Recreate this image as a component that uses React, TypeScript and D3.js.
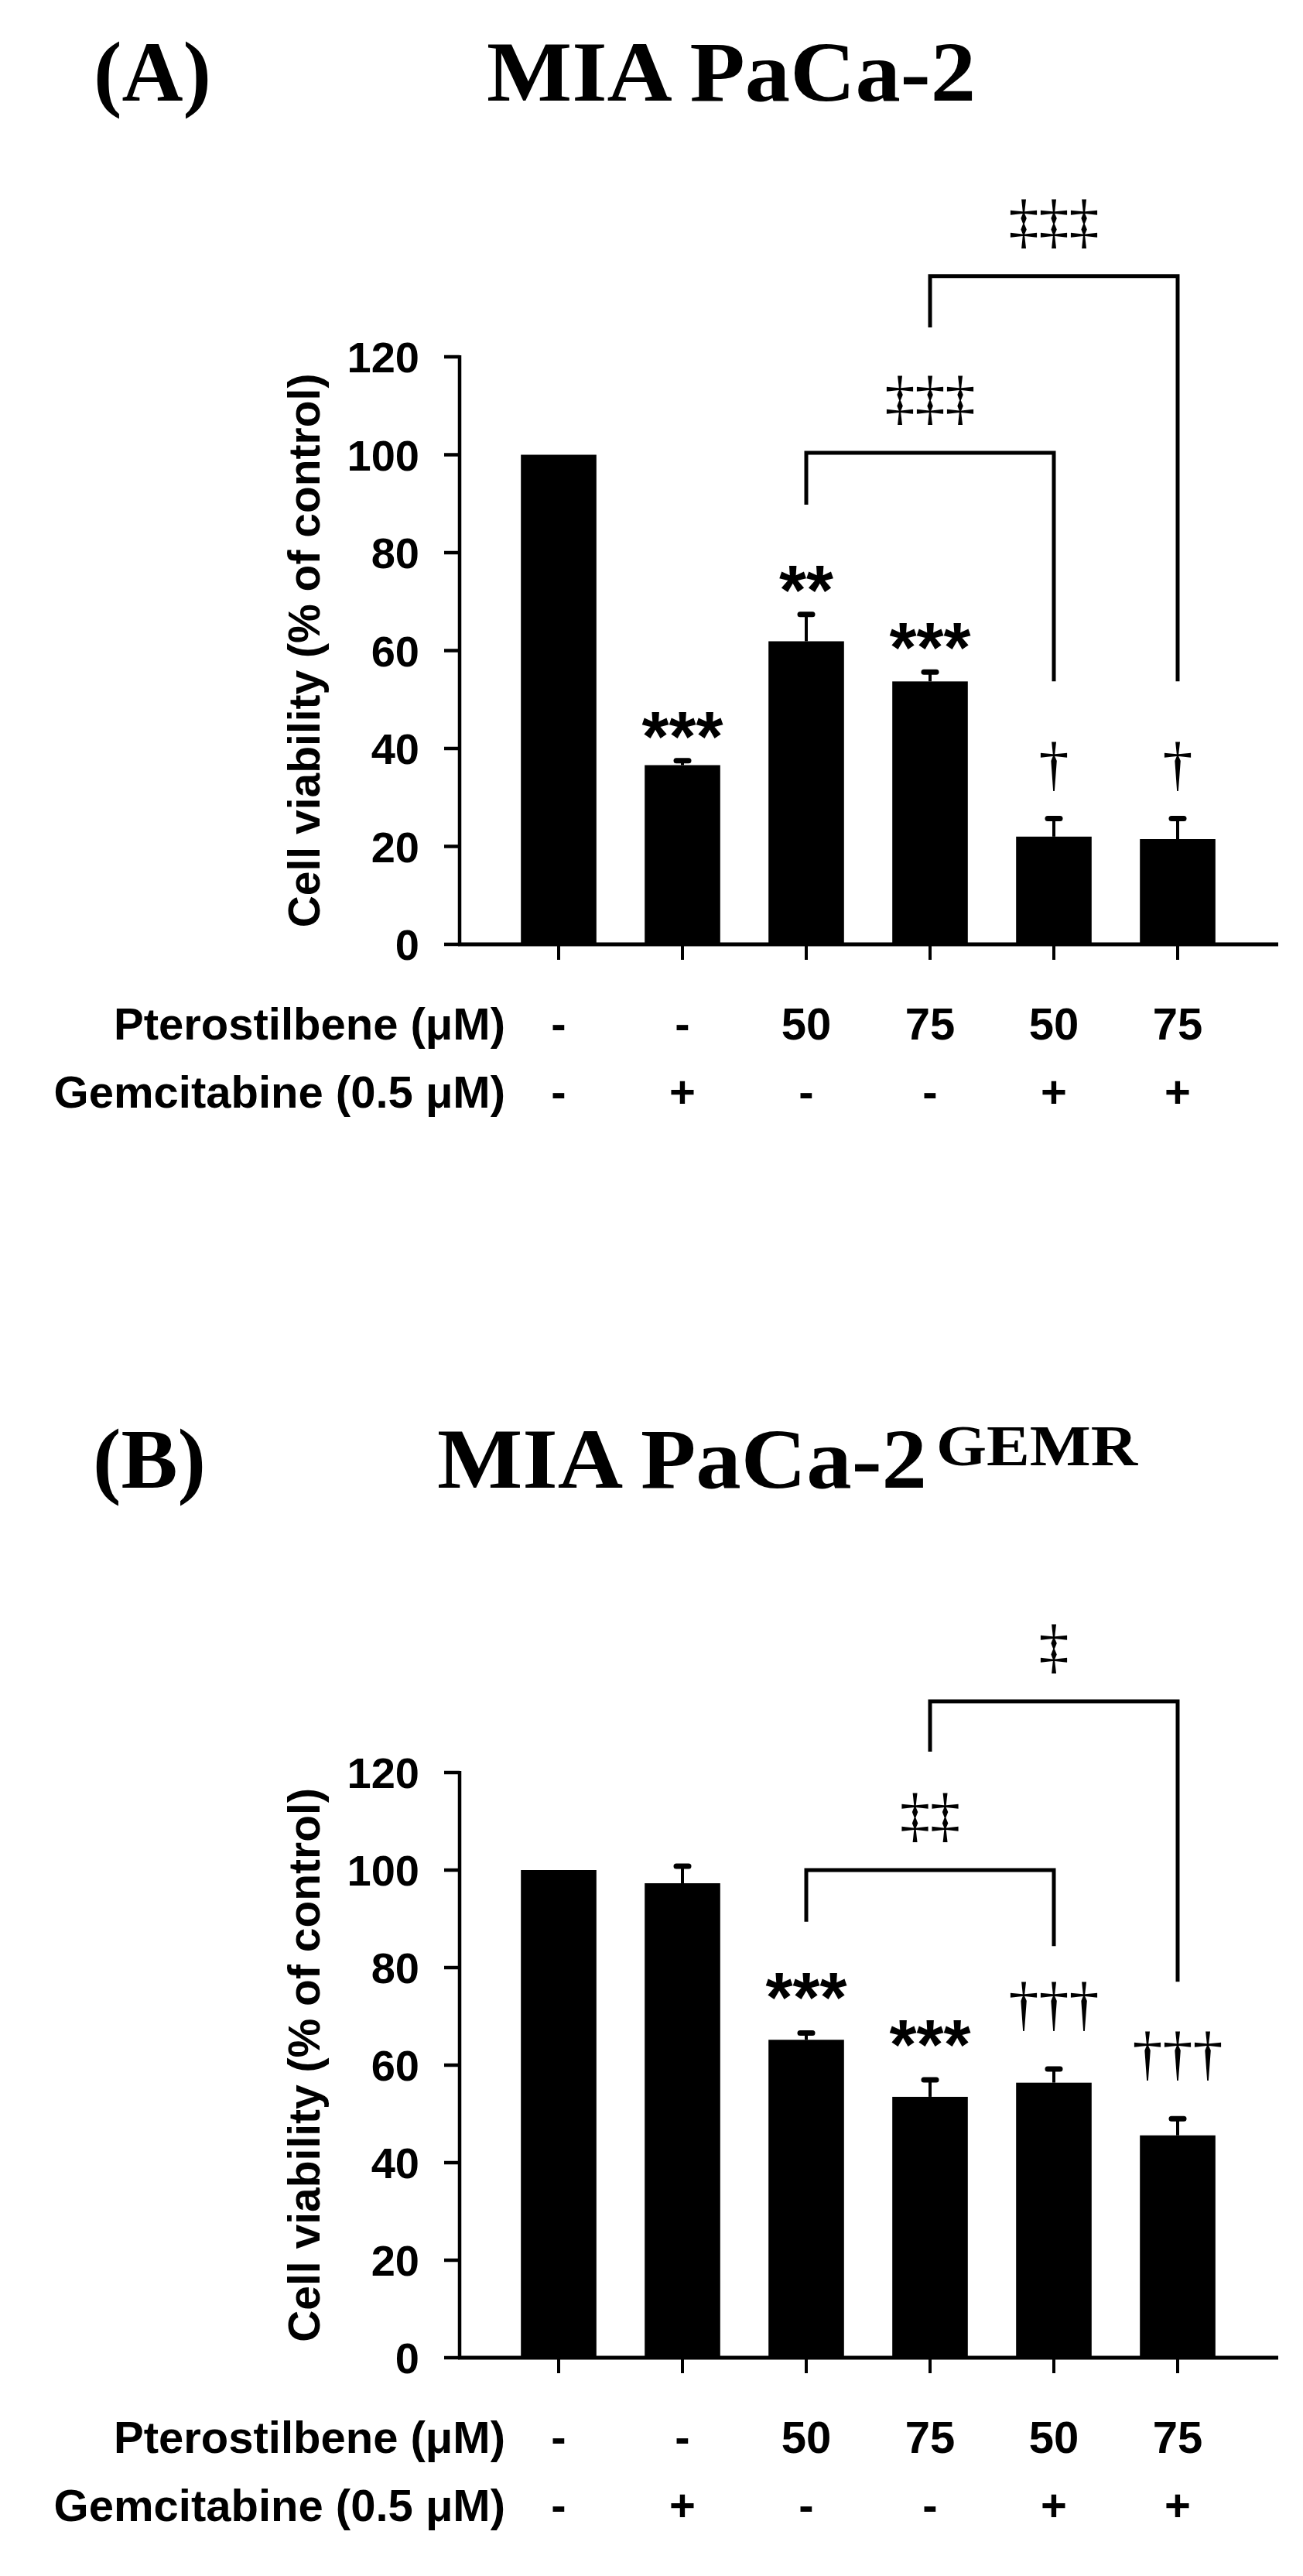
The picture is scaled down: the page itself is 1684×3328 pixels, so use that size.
import React from 'react';
import * as d3 from 'd3';

// groups (Pterostilbene / Gemcitabine combinations)
const groups = ['ctrl', 'gem', 'pt50', 'pt75', 'pt50gem', 'pt75gem'];
const pteroLabels = ['-', '-', '50', '75', '50', '75'];
const gemLabels = ['-', '+', '-', '-', '+', '+'];
const yTicks = [0, 20, 40, 60, 80, 100, 120];

// Panel A: MIA PaCa-2
const meansA = [100, 36.6, 61.9, 53.7, 22.0, 21.5];
const errA = [0, 0.9, 5.5, 1.9, 3.7, 4.2];
const marksA = ['', '***', '**', '***', '\u2020', '\u2020'];

// Panel B: MIA PaCa-2 GEMR
const meansB = [100, 97.3, 65.2, 53.5, 56.4, 45.6];
const errB = [0, 3.5, 1.4, 3.5, 2.8, 3.4];
const marksB = ['', '', '***', '***', '\u2020\u2020\u2020', '\u2020\u2020\u2020'];

// comparison brackets: [from group, to group, top, left leg end, right leg end, label]
const bracketsA: [string, string, number, number, number, string][] = [
  ['pt50', 'pt50gem', 100.4, 89.8, 53.7, '\u2021\u2021\u2021'],
  ['pt75', 'pt75gem', 136.5, 126, 53.7, '\u2021\u2021\u2021'],
];
const bracketsB: [string, string, number, number, number, string][] = [
  ['pt50', 'pt50gem', 100, 89.4, 84.4, '\u2021\u2021'],
  ['pt75', 'pt75gem', 134.6, 124.3, 77.1, '\u2021'],
];

const SANS = '"Liberation Sans", Arial, sans-serif';
const SERIF = '"Liberation Serif", "Times New Roman", serif';

interface PanelProps {
  means: number[];
  errs: number[];
  marks: string[];
  brackets: [string, string, number, number, number, string][];
  y0: number;
  y120: number;
  markGap: number;
}

function Panel({ means, errs, marks, brackets, y0, y120, markGap }: PanelProps) {
  const axisX = 594;
  const x = d3.scaleBand<string>().domain(groups).range([642, 1602]).paddingInner(0.39).paddingOuter(0.195);
  const y = d3.scaleLinear().domain([0, 120]).range([y0, y120]);
  const bw = x.bandwidth();
  const cx = (g: string) => (x(g) as number) + bw / 2;

  return (
    <g>
      {/* bars */}
      {groups.map((g, i) => (
        <rect key={g} x={x(g)} y={y(means[i])} width={bw} height={y(0) - y(means[i])} fill="#000" />
      ))}
      {/* error bars, upper only */}
      {groups.map((g, i) =>
        errs[i] > 0 ? (
          <g key={'e' + g} stroke="#000">
            <line x1={cx(g)} x2={cx(g)} y1={y(means[i])} y2={y(means[i] + errs[i])} strokeWidth={4} />
            <line x1={cx(g) - 8} x2={cx(g) + 8} y1={y(means[i] + errs[i])} y2={y(means[i] + errs[i])} strokeWidth={7} strokeLinecap="round" />
          </g>
        ) : null
      )}
      {/* significance marks */}
      {groups.map((g, i) => {
        const m = marks[i];
        if (!m) return null;
        const bottom = y(means[i] + errs[i]) - markGap;
        const isStar = m.startsWith('*');
        return (
          <text
            key={'m' + g}
            x={cx(g)}
            y={isStar ? bottom + 36 : bottom - 8}
            textAnchor="middle"
            fontFamily={isStar ? SANS : SERIF}
            fontWeight={isStar ? 700 : 400}
            fontSize={isStar ? 90 : 78}
            fill="#000"
          >
            {m}
          </text>
        );
      })}
      {/* brackets */}
      {brackets.map(([a, b, top, l, r, label]) => (
        <g key={a + b}>
          <path
            d={`M${cx(a)},${y(l)}V${y(top)}H${cx(b)}V${y(r)}`}
            fill="none"
            stroke="#000"
            strokeWidth={5}
          />
          <text x={(cx(a) + cx(b)) / 2} y={y(top) - 45} textAnchor="middle" fontFamily={SERIF} fontSize={78} fill="#000">
            {label}
          </text>
        </g>
      ))}
      {/* y axis */}
      <line x1={axisX} x2={axisX} y1={y(120) - 2} y2={y(0)} stroke="#000" strokeWidth={4.5} />
      {yTicks.map((t) => (
        <g key={'t' + t}>
          <line x1={axisX - 20} x2={axisX} y1={y(t)} y2={y(t)} stroke="#000" strokeWidth={4.5} />
          <text x={axisX - 52} y={y(t) + 20} textAnchor="end" fontFamily={SANS} fontWeight={700} fontSize={56} fill="#000">
            {t}
          </text>
        </g>
      ))}
      <text
        transform={`translate(413,${(y(0) + y(120)) / 2}) rotate(-90)`}
        textAnchor="middle"
        fontFamily={SANS}
        fontWeight={700}
        fontSize={57}
        fill="#000"
      >
        Cell viability (% of control)
      </text>
      {/* x axis */}
      <line x1={axisX - 2} x2={1652} y1={y(0)} y2={y(0)} stroke="#000" strokeWidth={5} />
      {groups.map((g) => (
        <line key={'xt' + g} x1={cx(g)} x2={cx(g)} y1={y(0)} y2={y(0) + 20} stroke="#000" strokeWidth={4} />
      ))}
      {/* treatment rows */}
      <g fontFamily={SANS} fontWeight={700} fontSize={58} fill="#000">
        <text x={653} y={y(0) + 123} textAnchor="end">Pterostilbene (μM)</text>
        <text x={653} y={y(0) + 211} textAnchor="end">Gemcitabine (0.5 μM)</text>
        {groups.map((g, i) => (
          <text key={'p' + g} x={cx(g)} y={y(0) + 123} textAnchor="middle">{pteroLabels[i]}</text>
        ))}
        {groups.map((g, i) => (
          <text key={'g' + g} x={cx(g)} y={y(0) + 211} textAnchor="middle">{gemLabels[i]}</text>
        ))}
      </g>
    </g>
  );
}

export default function App() {
  return (
    <svg
      width={1684}
      height={3328}
      viewBox="0 0 1684 3328"
      style={{ position: 'absolute', left: 0, top: 0, background: '#fff' }}
    >
      <rect width={1684} height={3328} fill="#fff" />
      {/* titles */}
      <g fontFamily={SERIF} fontWeight={700} fill="#000">
        <text x={121} y={130} fontSize={110} textLength={152} lengthAdjust="spacingAndGlyphs">(A)</text>
        <text x={629} y={130} fontSize={110} textLength={632} lengthAdjust="spacingAndGlyphs">MIA PaCa-2</text>
        <text x={120} y={1922} fontSize={110} textLength={146} lengthAdjust="spacingAndGlyphs">(B)</text>
        <text x={565} y={1922} fontSize={110} textLength={633} lengthAdjust="spacingAndGlyphs">MIA PaCa-2</text>
        <text x={1210} y={1893} fontSize={74} textLength={260} lengthAdjust="spacingAndGlyphs">GEMR</text>
      </g>
      <Panel means={meansA} errs={errA} marks={marksA} brackets={bracketsA} y0={1220} y120={461} markGap={36} />
      <Panel means={meansB} errs={errB} marks={marksB} brackets={bracketsB} y0={3046} y120={2290} markGap={50} />
    </svg>
  );
}
